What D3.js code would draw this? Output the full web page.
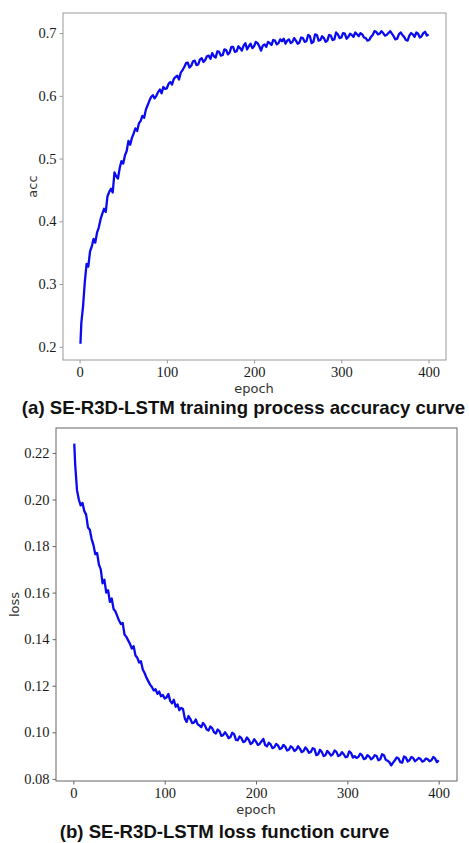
<!DOCTYPE html>
<html>
<head>
<meta charset="utf-8">
<script src="https://cdn.jsdelivr.net/npm/d3@7"></script>
<style>
  body { margin: 0; background: #fff; }
  svg { display: block; }
</style>
</head>
<body>
<div id="chart"></div>
<script>
// epochs sampled every 2 (first one is epoch 1)
const epochs = [1, ...d3.range(2, 401, 2)];

// accuracy (a)
const accValues = [
  0.205, 0.238, 0.265, 0.303, 0.332, 0.328, 0.352, 0.360, 0.372, 0.366,
  0.382, 0.390, 0.403, 0.412, 0.420, 0.415, 0.440, 0.447, 0.452, 0.446,
  0.478, 0.472, 0.468, 0.485, 0.496, 0.492, 0.505, 0.512, 0.528, 0.522,
  0.533, 0.540, 0.548, 0.544, 0.556, 0.560, 0.568, 0.565, 0.578, 0.585,
  0.592, 0.598, 0.601, 0.596, 0.600, 0.606, 0.610, 0.604, 0.614, 0.611,
  0.612, 0.619, 0.622, 0.618, 0.627, 0.630, 0.632, 0.626, 0.637, 0.641,
  0.646, 0.652, 0.653, 0.645, 0.648, 0.655, 0.656, 0.649, 0.650, 0.658,
  0.660, 0.654, 0.657, 0.663, 0.664, 0.659, 0.668, 0.663, 0.661, 0.671,
  0.670, 0.664, 0.665, 0.674, 0.673, 0.666, 0.669, 0.678, 0.678, 0.670,
  0.671, 0.679, 0.676, 0.672, 0.680, 0.684, 0.674, 0.679, 0.683, 0.676,
  0.679, 0.686, 0.684, 0.679, 0.672, 0.680, 0.682, 0.678, 0.686, 0.684,
  0.681, 0.689, 0.688, 0.682, 0.684, 0.690, 0.687, 0.691, 0.683, 0.688,
  0.690, 0.684, 0.686, 0.692, 0.688, 0.683, 0.685, 0.693, 0.692, 0.686,
  0.687, 0.697, 0.695, 0.684, 0.686, 0.698, 0.697, 0.688, 0.689, 0.695,
  0.692, 0.686, 0.688, 0.697, 0.696, 0.689, 0.690, 0.701, 0.698, 0.692,
  0.693, 0.700, 0.699, 0.691, 0.694, 0.699, 0.697, 0.694, 0.701, 0.698,
  0.695, 0.700, 0.698, 0.693, 0.692, 0.688, 0.689, 0.694, 0.697, 0.703,
  0.702, 0.698, 0.699, 0.703, 0.700, 0.696, 0.697, 0.700, 0.703, 0.699,
  0.695, 0.690, 0.691, 0.698, 0.701, 0.697, 0.694, 0.689, 0.688, 0.696,
  0.700, 0.698, 0.694, 0.701, 0.699, 0.693, 0.695, 0.700, 0.702, 0.696,
  0.698
];

// loss (b)
const lossValues = [
  0.2240, 0.2150, 0.2040, 0.2000, 0.1975, 0.1985, 0.1950, 0.1935, 0.1880, 0.1870,
  0.1830, 0.1805, 0.1765, 0.1770, 0.1720, 0.1700, 0.1640, 0.1655, 0.1600, 0.1610,
  0.1560, 0.1575, 0.1530, 0.1520, 0.1500, 0.1480, 0.1465, 0.1470, 0.1420, 0.1410,
  0.1395, 0.1380, 0.1360, 0.1370, 0.1330, 0.1320, 0.1300, 0.1305, 0.1270, 0.1255,
  0.1235, 0.1220, 0.1205, 0.1195, 0.1180, 0.1185, 0.1165, 0.1175, 0.1155, 0.1160,
  0.1145, 0.1150, 0.1165, 0.1135, 0.1125, 0.1140, 0.1110, 0.1120, 0.1095, 0.1105,
  0.1100, 0.1060, 0.1045, 0.1070, 0.1058, 0.1040, 0.1042, 0.1055, 0.1035, 0.1030,
  0.1022, 0.1040, 0.1030, 0.1012, 0.1008, 0.1025, 0.1018, 0.1000, 0.0995, 0.1012,
  0.1005, 0.0985, 0.0988, 0.1000, 0.0990, 0.0975, 0.0980, 0.0998, 0.0992, 0.0968,
  0.0966, 0.0982, 0.0975, 0.0958, 0.0962, 0.0978, 0.0968, 0.0950, 0.0955, 0.0970,
  0.0960, 0.0946, 0.0950, 0.0962, 0.0972, 0.0945, 0.0940, 0.0955, 0.0948, 0.0932,
  0.0936, 0.0950, 0.0944, 0.0928, 0.0932, 0.0946, 0.0938, 0.0922, 0.0925, 0.0940,
  0.0934, 0.0920, 0.0926, 0.0940, 0.0930, 0.0915, 0.0920, 0.0935, 0.0926, 0.0912,
  0.0916, 0.0932, 0.0928, 0.0902, 0.0906, 0.0925, 0.0916, 0.0898, 0.0902, 0.0920,
  0.0912, 0.0900, 0.0906, 0.0922, 0.0916, 0.0898, 0.0902, 0.0915, 0.0906, 0.0893,
  0.0896, 0.0918, 0.0912, 0.0892, 0.0898, 0.0890, 0.0894, 0.0908, 0.0902, 0.0885,
  0.0888, 0.0902, 0.0896, 0.0884, 0.0890, 0.0902, 0.0898, 0.0880, 0.0884, 0.0906,
  0.0902, 0.0882, 0.0878, 0.0872, 0.0858, 0.0870, 0.0880, 0.0892, 0.0888, 0.0872,
  0.0870, 0.0896, 0.0892, 0.0875, 0.0880, 0.0894, 0.0890, 0.0876, 0.0882, 0.0890,
  0.0886, 0.0874, 0.0878, 0.0888, 0.0884, 0.0876, 0.0880, 0.0894, 0.0888, 0.0872,
  0.0880
];

const xTicks = [0, 100, 200, 300, 400];
const accTicks = [0.2, 0.3, 0.4, 0.5, 0.6, 0.7];
const lossTicks = [0.08, 0.10, 0.12, 0.14, 0.16, 0.18, 0.20, 0.22];

const svg = d3.select('#chart')
  .append('svg')
  .attr('width', 469)
  .attr('height', 843);

function drawPanel(cfg) {
  const x = d3.scaleLinear().domain([-19, 420]).range([cfg.left, cfg.right]);
  const y = d3.scaleLinear().domain(cfg.yDomain).range([cfg.bottom, cfg.top]);

  const g = svg.append('g');

  // y axis
  g.append('g')
    .attr('transform', `translate(${cfg.left},0)`)
    .call(d3.axisLeft(y).tickValues(cfg.yTicks).tickFormat(d3.format(cfg.fmt))
      .tickSize(3.5).tickPadding(3))
    .call(a => a.select('.domain').remove())
    .call(a => a.selectAll('line').attr('stroke', cfg.frame))
    .call(a => a.selectAll('text')
      .attr('font-family', '"Liberation Serif", "Times New Roman", serif')
      .attr('font-size', '14.5px').attr('fill', '#1a1a1a'));

  // x axis
  g.append('g')
    .attr('transform', `translate(0,${cfg.bottom})`)
    .call(d3.axisBottom(x).tickValues(xTicks).tickSize(3.5).tickPadding(3))
    .call(a => a.select('.domain').remove())
    .call(a => a.selectAll('line').attr('stroke', cfg.frame))
    .call(a => a.selectAll('text')
      .attr('font-family', '"Liberation Serif", "Times New Roman", serif')
      .attr('font-size', '14.5px').attr('fill', '#1a1a1a'));

  // frame
  g.append('rect')
    .attr('x', cfg.left).attr('y', cfg.top)
    .attr('width', cfg.right - cfg.left).attr('height', cfg.bottom - cfg.top)
    .attr('fill', 'none').attr('stroke', cfg.frame).attr('stroke-width', 1);

  const line = d3.line()
    .x(d => x(d[0]))
    .y(d => y(d[1]));

  g.append('path')
    .datum(d3.zip(epochs, cfg.values))
    .attr('d', line)
    .attr('fill', 'none')
    .attr('stroke', '#0a0af0')
    .attr('stroke-width', 2.3)
    .attr('stroke-linejoin', 'round');

  // axis labels
  g.append('text')
    .attr('x', x(200)).attr('y', cfg.xlabelY)
    .attr('text-anchor', 'middle')
    .attr('font-family', '"DejaVu Sans", sans-serif')
    .attr('font-size', '13px').attr('fill', '#333')
    .text('epoch');

  g.append('text')
    .attr('transform', `translate(${cfg.ylabelX},${(cfg.top + cfg.bottom) / 2}) rotate(-90)`)
    .attr('text-anchor', 'middle')
    .attr('font-family', '"DejaVu Sans", sans-serif')
    .attr('font-size', '13px').attr('fill', '#333')
    .text(cfg.ylabel);

  // caption
  g.append('text')
    .attr('x', cfg.captionX).attr('y', cfg.captionY)
    .attr('text-anchor', 'middle')
    .attr('font-family', '"Liberation Sans", Arial, sans-serif')
    .attr('font-weight', 'bold')
    .attr('font-size', '18.6px').attr('fill', '#111')
    .text(cfg.caption);
}

drawPanel({
  left: 63, right: 446, top: 13, bottom: 360,
  yDomain: [0.179, 0.732], yTicks: accTicks, fmt: '.1f',
  values: accValues, frame: '#999',
  ylabel: 'acc', ylabelX: 37, xlabelY: 393,
  caption: '(a) SE-R3D-LSTM training process accuracy curve', captionX: 243.5, captionY: 414
});

drawPanel({
  left: 56, right: 457, top: 428, bottom: 781,
  yDomain: [0.0791, 0.2307], yTicks: lossTicks, fmt: '.2f',
  values: lossValues, frame: '#666',
  ylabel: 'loss', ylabelX: 19, xlabelY: 814,
  caption: '(b) SE-R3D-LSTM loss function curve', captionX: 224.5, captionY: 838
});
</script>
</body>
</html>
